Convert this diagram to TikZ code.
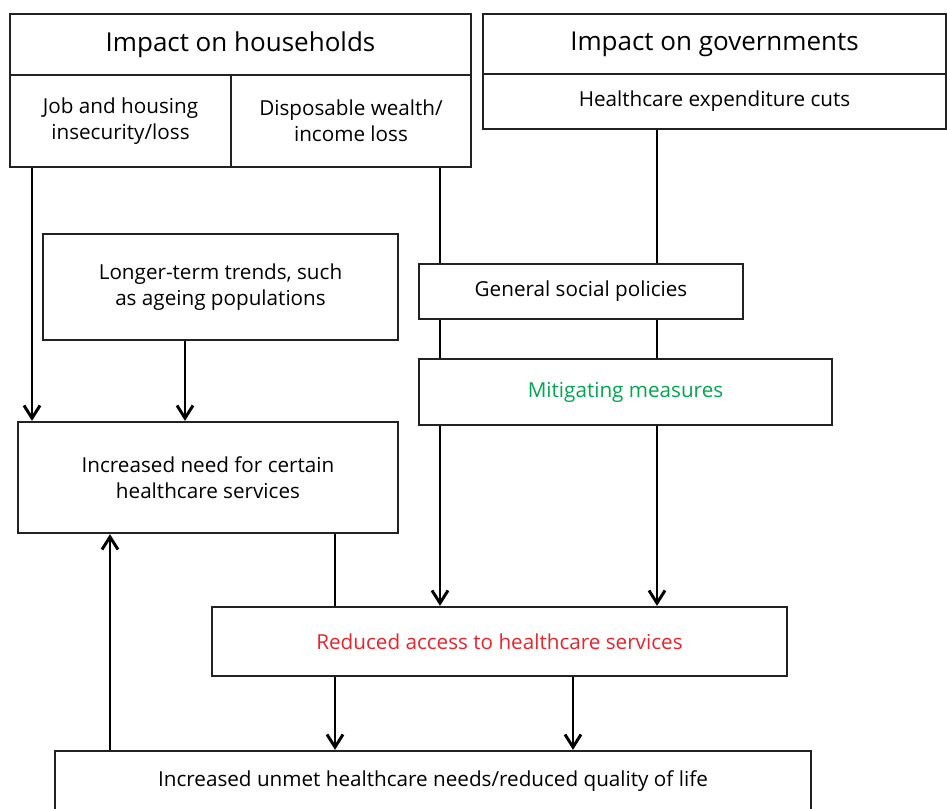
\documentclass[tikz,border=0pt]{standalone}
\usepackage{fontspec}
\setmainfont{Open Sans}
\usetikzlibrary{arrows.meta,backgrounds}
\definecolor{redtxt}{HTML}{E8252B}
\definecolor{greentxt}{HTML}{00A650}
\definecolor{boxline}{HTML}{222222}
\tikzset{
  box/.style={draw=boxline, line width=1.7pt, fill=white, inner sep=0pt, align=center,
    font=\fontsize{15.5}{19.5}\selectfont},
  titlebox/.style={box, font=\fontsize{19.5}{23}\selectfont},
  conn/.style={line width=2.2pt, draw=black},
  arr/.style={conn, -{Straight Barb[length=9.5pt,width=12pt,line width=2.2pt]}},
}
\begin{document}
\begin{tikzpicture}[x=0.75pt,y=-0.75pt]
\clip (0,0) rectangle (947,808);
\useasboundingbox (0,0) rectangle (947,808);
% nodes
\node[titlebox, minimum width=345.75pt, minimum height=45.75pt] (hh) at (240.5,44.5) {Impact on households};
\node[box, minimum width=165.75pt, minimum height=69pt] (hhl) at (120.5,121) {Job and housing\\insecurity/loss};
\node[box, minimum width=180pt, minimum height=69pt] (hhr) at (351,121) {Disposable wealth/\\income loss};
\node[titlebox, minimum width=347.25pt, minimum height=45pt] (gov) at (714.5,44) {Impact on governments};
\node[box, minimum width=347.25pt, minimum height=41.25pt] (govb) at (714.5,101.5) {Healthcare expenditure cuts};
\node[box, minimum width=266.25pt, minimum height=79.5pt] (trends) at (220.5,287) {Longer-term trends, such\\as ageing populations};
\node[box, minimum width=243pt, minimum height=41.25pt] (gsp) at (581,291.5) {General social policies};
\node[box, minimum width=309.75pt, minimum height=49.5pt, text=greentxt] (mit) at (625.5,392) {Mitigating measures};
\node[box, minimum width=285pt, minimum height=83.25pt] (need) at (208,477.5) {Increased need for certain\\healthcare services};
\node[box, minimum width=431.25pt, minimum height=51.75pt, text=redtxt] (access) at (499.5,641.5) {Reduced access to healthcare services};
\node[box, minimum width=567pt, minimum height=45.75pt] (unmet) at (433,781.5) {Increased unmet healthcare needs/reduced quality of life};
% helper x positions
\coordinate (x32) at (32,0);
\coordinate (x185) at (185,0);
\coordinate (x440) at (440,0);
\coordinate (x657) at (657,0);
\coordinate (x335) at (335,0);
\coordinate (x573) at (573,0);
\coordinate (x110) at (110,0);
\begin{scope}[on background layer]
\fill[white] (0,0) rectangle (947,808);
\draw[arr] (hhl.south -| x32) -- (need.north -| x32);
\draw[arr] (trends.south -| x185) -- (need.north -| x185);
\draw[arr] (hhr.south -| x440) -- (access.north -| x440);
\draw[arr] (govb.south -| x657) -- (access.north -| x657);
\draw[conn] (need.south -| x335) -- (access.north -| x335);
\draw[arr] (access.south -| x335) -- (unmet.north -| x335);
\draw[arr] (access.south -| x573) -- (unmet.north -| x573);
\draw[arr] (unmet.north -| x110) -- (need.south -| x110);
\end{scope}
\end{tikzpicture}
\end{document}
